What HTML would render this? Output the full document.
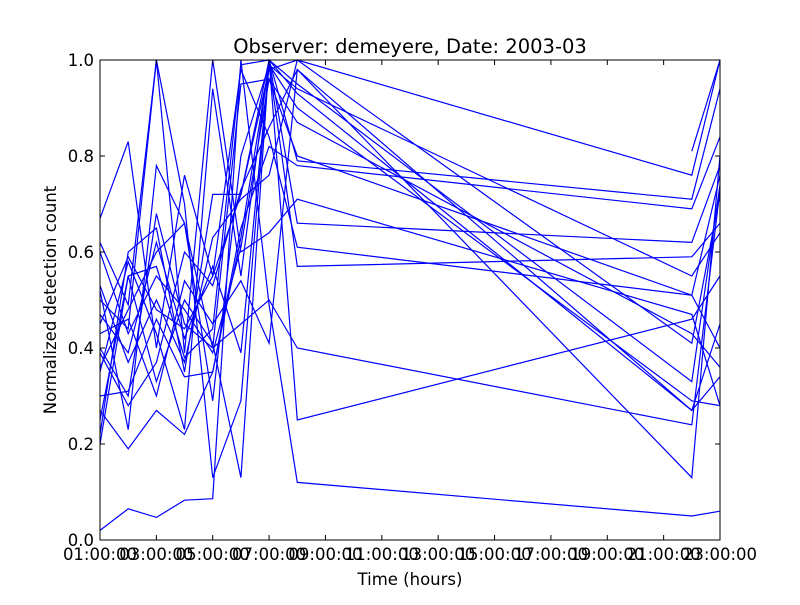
<!DOCTYPE html>
<html><head><meta charset="utf-8"><style>
body{margin:0;background:#fff;}
svg text{font-family:"DejaVu Sans","Liberation Sans",sans-serif;}
</style></head><body>
<svg id="chart" width="800" height="600" xmlns="http://www.w3.org/2000/svg">
<rect x="0" y="0" width="800" height="600" fill="#fff"/>
<text x="410" y="53" font-size="19.5" text-anchor="middle">Observer: demeyere, Date: 2003-03</text>
<text x="410" y="585" font-size="16.5" text-anchor="middle">Time (hours)</text>
<text x="56" y="300" font-size="16.5" text-anchor="middle" transform="rotate(-90 56 300)">Normalized detection count</text>
<g id="lines"></g>
<g id="axes"></g>
</svg>
<script>
const hours = [1,2,3,4,5,6,7,8,22,23];
const xTickLabels = ["01:00:00","03:00:00","05:00:00","07:00:00","09:00:00","11:00:00","13:00:00","15:00:00","17:00:00","19:00:00","21:00:00","23:00:00"];
const xTickHours = [1,3,5,7,9,11,13,15,17,19,21,23];
const yTickLabels = ["0.0","0.2","0.4","0.6","0.8","1.0"];
const yTickValues = [0,0.2,0.4,0.6,0.8,1.0];
const s1 = [.02,.065,.047,.083,.086,1.0,.49,.12,.05,.06];
const s2 = [.67,.83,.4,.76,.55,.72,.98,1.0,.76,1.0];
const s3 = [.62,.49,1.0,.7,.13,.29,1.0,.79,.71,.94];
const s4 = [.27,.19,.27,.22,.35,.65,.82,.78,.69,.84];
const s5 = [.22,.6,.65,.35,.72,.72,1.0,.66,.62,.78];
const s6 = [.45,.59,.48,.44,.55,.98,.84,.61,.51,.76];
const s7 = [.52,.23,.78,.66,.29,.8,.99,.57,.59,.66];
const s8 = [.35,.58,.43,.23,.94,.55,1.0,.25,.46,.55];
const s9 = [.4,.3,.68,.45,.4,.45,.5,.4,.24,.73];
const s10 = [.2,.55,.33,.5,.41,.13,1.0,.93,.27,.34];
const s11 = [.5,.44,1.0,.39,1.0,.6,.64,.71,.47,.28];
const s12 = [.3,.31,.46,.34,.35,.63,.99,.9,.29,.28];
const s13 = [.36,.48,.6,.66,.4,.95,.96,.87,.43,.36];
const s14 = [.25,.55,.57,.38,.44,.99,1.0,.95,.33,.74];
const s15 = [.43,.46,.3,.54,.45,.54,.41,.98,.13,.8];
const s16 = [.53,.37,.5,.37,.63,.71,.76,1.0,.41,.72];
const s17 = [.6,.43,.55,.48,.39,.61,.96,.8,.51,.4];
const s18 = [.39,.28,.37,.6,.53,.73,.86,.98,.27,.45];
const s19 = [.47,.39,.62,.42,.57,.39,.99,.94,.55,.64];
const s20 = [null,null,null,null,null,null,null,null,.81,1.0];
const series = [s1,s2,s3,s4,s5,s6,s7,s8,s9,s10,s11,s12,s13,s14,s15,s16,s17,s18,s19,s20];

const X0=100,X1=720,Y0=540,Y1=60;
const xs = h => X0 + (h-1)/(23-1)*(X1-X0);
const ys = v => Y0 - v*(Y0-Y1);
const NS="http://www.w3.org/2000/svg";
const lines=document.getElementById('lines');
series.forEach((s,i)=>{
  let d="",pen=false;
  s.forEach((v,j)=>{
    if(v===null){pen=false;return;}
    d+=(pen?"L":"M")+xs(hours[j]).toFixed(1)+" "+ys(v).toFixed(1)+" ";pen=true;
  });
  const p=document.createElementNS(NS,'path');
  p.setAttribute('d',d);p.setAttribute('fill','none');p.setAttribute('stroke','#0000ff');p.setAttribute('stroke-width','1.2');
  
  
  lines.appendChild(p);
});
const axes=document.getElementById('axes');
function add(tag,attrs,text){const e=document.createElementNS(NS,tag);for(const k in attrs)e.setAttribute(k,attrs[k]);if(text!==undefined)e.textContent=text;axes.appendChild(e);return e;}
const frame=add('rect',{x:X0,y:Y1,width:X1-X0,height:Y0-Y1,fill:'none',stroke:'#000','stroke-width':1});


xTickHours.forEach((h,i)=>{
  const x=xs(h);
  add('line',{x1:x,x2:x,y1:Y0,y2:Y0-5,stroke:'#000'});
  add('line',{x1:x,x2:x,y1:Y1,y2:Y1+5,stroke:'#000'});
  const t=add('text',{x:x,y:Y0+20,'font-size':16.5,'text-anchor':'middle'},xTickLabels[i]);
  
  
});
yTickValues.forEach((v,i)=>{
  const y=ys(v);
  add('line',{x1:X0,x2:X0+5,y1:y,y2:y,stroke:'#000'});
  add('line',{x1:X1,x2:X1-5,y1:y,y2:y,stroke:'#000'});
  const t=add('text',{x:X0-6,y:y+6,'font-size':16.5,'text-anchor':'end'},yTickLabels[i]);
  
  
});
</script>
</body></html>
